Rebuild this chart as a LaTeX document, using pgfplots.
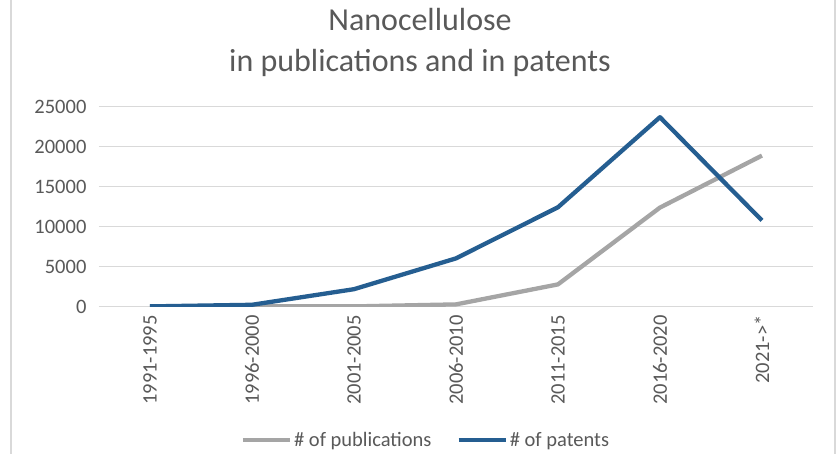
\documentclass[border=0pt]{standalone}
\usepackage{pgfplots}
\pgfplotsset{compat=1.18}
\usepackage{fontspec}
\setmainfont{Carlito}
\definecolor{txt}{HTML}{595959}
\definecolor{gridc}{HTML}{D9D9D9}
\definecolor{pubc}{HTML}{A5A5A5}
\definecolor{patc}{HTML}{255E91}
\begin{document}
\begin{tikzpicture}[x=1pt,y=1pt]
  \useasboundingbox (0,0) rectangle (840,454);
  \fill[white] (0,0) rectangle (840,454);
  \draw[gridc, line width=1.2pt] (11,0) -- (11,454);
  \draw[gridc, line width=1.2pt] (835,0) -- (835,454);
  \node[txt, font=\fontsize{32}{39}\selectfont, align=center, anchor=base]
    at (420,382) {Nanocellulose\\[2pt]in publications and in patents};
  \begin{axis}[
    at={(97,184)}, anchor=south west,
    scale only axis,
    width=714pt, height=200pt,
    xmin=-0.5, xmax=6.5,
    ymin=0, ymax=25000,
    xtick={0,1,2,3,4,5,6},
    xticklabels={1991-1995,1996-2000,2001-2005,2006-2010,2011-2015,2016-2020,2021->*},
    ytick={0,5000,10000,15000,20000,25000},
    /pgf/number format/assume math mode=true,
    scaled y ticks=false,
    yticklabel style={/pgf/number format/1000 sep={}},
    ticklabel style={font=\fontsize{20.5}{24}\selectfont, text=txt},
    x tick label style={rotate=90, anchor=east, xshift=0pt},
    xticklabel shift=5pt,
    yticklabel shift=9pt,
    major tick length=0pt,
    axis line style={draw=none},
    ymajorgrids=true,
    grid style={gridc, line width=1.2pt},
    legend columns=2,
    legend style={at={(0.458,-0.665)}, anchor=center, draw=none, fill=none,
      font=\fontsize{20.5}{24}\selectfont, text=txt,
      /tikz/every even column/.append style={column sep=23pt}},
    legend image code/.code={\draw[#1] (0pt,0pt) -- (47pt,0pt);},
  ]
    % publications
    \addplot[pubc, line width=4.3pt, line join=round] coordinates {
      (0,0) (1,50) (2,50) (3,300) (4,2800) (5,12400) (6,18900)
    };
    \addlegendentry{\# of publications}
    % patents
    \addplot[patc, line width=4.3pt, line join=round] coordinates {
      (0,50) (1,250) (2,2200) (3,6050) (4,12440) (5,23700) (6,10800)
    };
    \addlegendentry{\# of patents}
  \end{axis}
\end{tikzpicture}
\end{document}
